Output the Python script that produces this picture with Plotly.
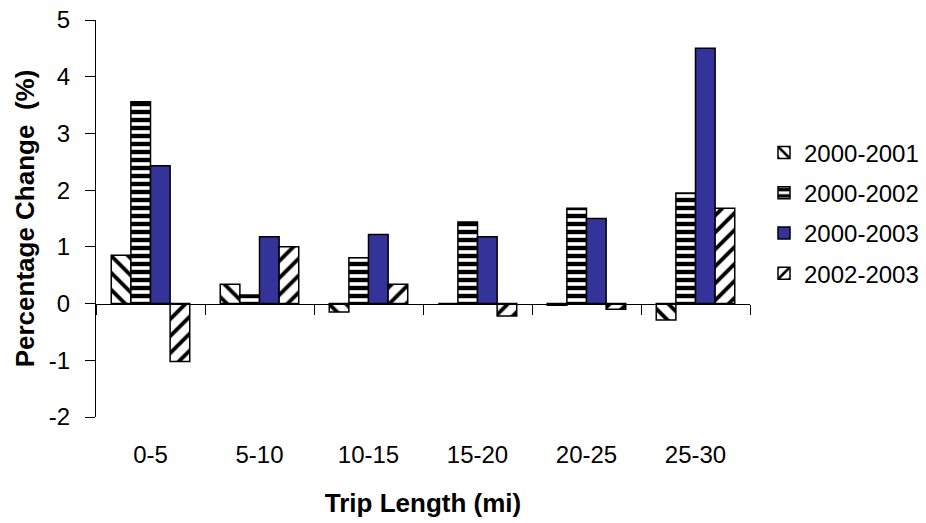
import plotly.graph_objects as go

# Trip length bins (miles)
categories = ["0-5", "5-10", "10-15", "15-20", "20-25", "25-30"]

# Percentage change in trips per period
chg_2000_2001 = [0.85, 0.34, -0.15, 0.0, -0.03, -0.29]
chg_2000_2002 = [3.56, 0.15, 0.81, 1.44, 1.68, 1.95]
chg_2000_2003 = [2.43, 1.18, 1.22, 1.18, 1.50, 4.50]
chg_2002_2003 = [-1.02, 1.00, 0.34, -0.22, -0.10, 1.68]

y_ticks = [-2, -1, 0, 1, 2, 3, 4, 5]
y_tick_text = ["-2", "-1", "0", "1", "2", "3", "4", "5"]

FONT = "Liberation Sans, Arial, sans-serif"
BLACK = "#000000"
BLUE = "#333399"


def hatch(shape, size, solidity):
    return dict(shape=shape, size=size, solidity=solidity, fgcolor=BLACK,
                fgopacity=1, bgcolor="white", fillmode="replace")


series = [
    ("2000-2001", chg_2000_2001, hatch("\\", 12, 0.32)),
    ("2000-2002", chg_2000_2002, hatch("-", 8, 0.55)),
    ("2000-2003", chg_2000_2003, None),
    ("2002-2003", chg_2002_2003, hatch("/", 12, 0.32)),
]

fig = go.Figure()
for i, (name, vals, pattern) in enumerate(series):
    marker = dict(line=dict(color=BLACK, width=1.5))
    if pattern is None:
        marker["color"] = BLUE
    else:
        marker["color"] = "white"
        marker["pattern"] = pattern
    fig.add_trace(go.Bar(
        name=name, x=categories, y=vals, marker=marker,
        legendgroup=f"g{i}",
    ))

# Helper trace so the zero-level category axis is drawn
fig.add_trace(go.Scatter(x=[], y=[], xaxis="x2", showlegend=False, hoverinfo="skip"))

boundaries = [i - 0.5 for i in range(len(categories) + 1)]

L, R, T, B = 96, 176, 20, 106
plot_w = 926 - L - R

fig.update_layout(
    width=926, height=523,
    margin=dict(l=L, r=R, t=T, b=B, autoexpand=False),
    paper_bgcolor="white", plot_bgcolor="white",
    barmode="group", bargap=0.28, bargroupgap=0,
    font=dict(family=FONT, color=BLACK, size=24),
    showlegend=True,
    legend=dict(
        x=(764 - L) / plot_w, y=0.514, yanchor="middle",
        font=dict(family=FONT, size=24, color=BLACK),
        tracegroupgap=6, itemwidth=30, bgcolor="rgba(0,0,0,0)",
    ),
    xaxis=dict(
        type="category", range=[-0.5, len(categories) - 0.5],
        automargin=False,
        showline=False, showgrid=False, zeroline=False, ticks="",
        ticklabelstandoff=21,
        tickfont=dict(family=FONT, size=24, color=BLACK),
        title=dict(text="<b>Trip Length (mi)</b>", standoff=26,
                   font=dict(family=FONT, size=26, color=BLACK)),
    ),
    xaxis2=dict(
        overlaying="x", anchor="free", position=2 / 7, side="bottom",
        range=[-0.5, len(categories) - 0.5], automargin=False,
        tickmode="array", tickvals=boundaries,
        ticks="outside", ticklen=10, tickwidth=1.2, tickcolor=BLACK,
        showticklabels=False, showline=True, linecolor=BLACK, linewidth=1.2,
        showgrid=False, zeroline=False,
    ),
    yaxis=dict(
        range=[-2, 5], tickmode="array", tickvals=y_ticks, ticktext=y_tick_text,
        automargin=False,
        showline=True, linecolor=BLACK, linewidth=1.2,
        ticks="outside", ticklen=10, tickwidth=1.2, tickcolor=BLACK,
        ticklabelstandoff=10,
        showgrid=False, zeroline=False,
        tickfont=dict(family=FONT, size=24, color=BLACK),
        title=dict(text="<b>Percentage Change  (%)</b>", standoff=6,
                   font=dict(family=FONT, size=26, color=BLACK)),
    ),
)

fig.write_html("out.html")
